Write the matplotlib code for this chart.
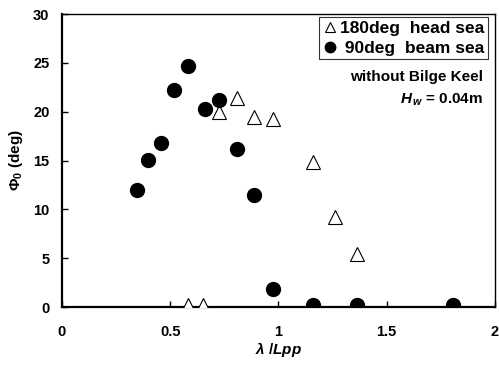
import matplotlib
matplotlib.use('Agg')
import matplotlib.pyplot as plt

plt.rcParams['font.family'] = ['Liberation Sans', 'DejaVu Sans']
plt.rcParams['mathtext.fontset'] = 'custom'
plt.rcParams['mathtext.it'] = 'Liberation Sans:italic:bold'
plt.rcParams['mathtext.rm'] = 'Liberation Sans:bold'
plt.rcParams['mathtext.bf'] = 'Liberation Sans:bold'

# --- data ---
head_x = [0.583, 0.653, 0.725, 0.807, 0.887, 0.976, 1.161, 1.261, 1.361]
head_y = [0.2, 0.2, 20.0, 21.4, 19.5, 19.2, 14.8, 9.2, 5.4]

beam_x = [0.346, 0.396, 0.457, 0.516, 0.582, 0.660, 0.725, 0.807, 0.887,
          0.976, 1.161, 1.361, 1.807]
beam_y = [12.0, 15.1, 16.75, 22.2, 24.7, 20.3, 21.2, 16.2, 11.5,
          1.8, 0.2, 0.25, 0.2]

xticks = [0, 0.5, 1, 1.5, 2]
xticklabels = ['0', '0.5', '1', '1.5', '2']
yticks = [0, 5, 10, 15, 20, 25, 30]

fig = plt.figure(figsize=(4.99, 3.65), dpi=100)
ax = fig.add_axes([0.1242, 0.1589, 0.8677, 0.8027])

ax.plot(head_x, head_y, linestyle='none', marker='^', markersize=9.5,
        markerfacecolor='white', markeredgecolor='black', markeredgewidth=0.8,
        label='180deg  head sea', zorder=3)
ax.plot(beam_x, beam_y, linestyle='none', marker='o', markersize=10,
        markerfacecolor='black', markeredgecolor='black',
        label=' 90deg  beam sea', zorder=3)

ax.set_xlim(0, 2)
ax.set_ylim(0, 30)
ax.set_xticks(xticks)
ax.set_xticklabels(xticklabels)
ax.set_yticks(yticks)
ax.tick_params(direction='in', length=4, width=1, labelsize=10.5)
ax.tick_params(axis='x', pad=13)
ax.tick_params(axis='y', pad=9)
for lab in ax.get_xticklabels() + ax.get_yticklabels():
    lab.set_fontweight('bold')

for side in ['left', 'bottom']:
    ax.spines[side].set_linewidth(1.6)
for side in ['top', 'right']:
    ax.spines[side].set_linewidth(1.0)

ax.set_xlabel(r'$\lambda$ /$Lpp$', fontsize=11, fontweight='bold', labelpad=1)
ax.set_ylabel(r'$\mathit{Φ}_{\mathit{0}}$ (deg)', fontsize=11, fontweight='bold',
              labelpad=6)

leg = ax.legend(loc='upper right', bbox_to_anchor=(0.9838, 0.9898),
                prop={'weight': 'bold', 'size': 12.5}, markerscale=0.75,
                frameon=True, fancybox=False, edgecolor='black',
                borderpad=0.2, handletextpad=0.15, handlelength=0.9,
                labelspacing=0.3, borderaxespad=0.0)
leg.get_frame().set_linewidth(0.8)

ax.text(0.972, 0.785, 'without Bilge Keel', transform=ax.transAxes,
        ha='right', va='center', fontsize=11, fontweight='bold')
ax.text(0.972, 0.706, r'$H_{\,w}$ = 0.04m', transform=ax.transAxes,
        ha='right', va='center', fontsize=11, fontweight='bold')

fig.savefig('out.png', dpi=100)
